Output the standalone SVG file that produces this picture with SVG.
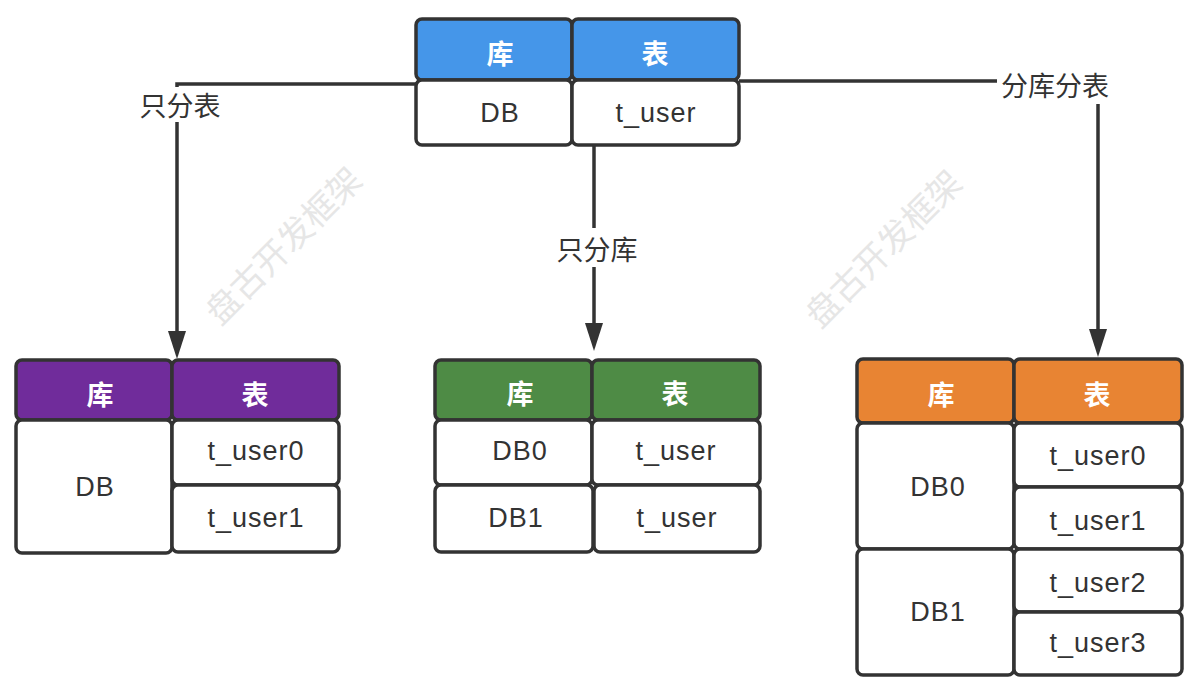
<svg xmlns="http://www.w3.org/2000/svg" width="1202" height="694" viewBox="0 0 1202 694">
<style>
.cell{fill:#fff;stroke:#333;stroke-width:3.5}
.hb{fill:#4596E9;stroke:#333;stroke-width:3.5}
.hp{fill:#702C9B;stroke:#333;stroke-width:3.5}
.hg{fill:#4E8B45;stroke:#333;stroke-width:3.5}
.ho{fill:#E88433;stroke:#333;stroke-width:3.5}
.ht{font-family:"Noto Sans CJK SC","Noto Sans",sans-serif;font-size:27px;font-weight:bold;fill:#fff;text-anchor:middle;dominant-baseline:central}
.t{font-family:"Liberation Sans",Arial,sans-serif;font-size:27px;fill:#333;text-anchor:middle;letter-spacing:1px}
.lbl{font-family:"Noto Sans CJK SC",sans-serif;font-size:27px;fill:#333;text-anchor:middle;dominant-baseline:central}
.wm{font-family:"Noto Sans CJK SC",sans-serif;font-size:34px;fill:#e6e6e6;text-anchor:middle;dominant-baseline:central}
.ln{fill:none;stroke:#333;stroke-width:3.5}
</style>
<g id="watermarks">
<text class="wm" transform="translate(282,244) rotate(-45)">盘古开发框架</text>
<text class="wm" transform="translate(882,247) rotate(-45)">盘古开发框架</text>
</g>
<g id="connectors">
<path class="ln" d="M416 84 H177 V333"/>
<path d="M168 331 L186 331 L177 359 Z" fill="#333"/>
<path class="ln" d="M594 146 V325"/>
<path d="M585 323 L603 323 L594 351 Z" fill="#333"/>
<path class="ln" d="M739 81 H1098 V331"/>
<path d="M1089 329 L1107 329 L1098 357 Z" fill="#333"/>
<rect x="138" y="87" width="84" height="35" fill="#fff"/>
<text class="lbl" x="180" y="104">只分表</text>
<rect x="554" y="228" width="86" height="39" fill="#fff"/>
<text class="lbl" x="597" y="248">只分库</text>
<rect x="997" y="66" width="116" height="38" fill="#fff"/>
<text class="lbl" x="1055" y="84">分库分表</text>
</g>
<g id="top-table">
<rect class="hb" x="416" y="19" width="156" height="61" rx="6"/>
<rect class="hb" x="572" y="19" width="167" height="61" rx="6"/>
<rect class="cell" x="416" y="80" width="156" height="65" rx="6"/>
<rect class="cell" x="572" y="80" width="167" height="65" rx="6"/>
<text class="ht" x="500" y="52">库</text>
<text class="ht" x="655" y="52">表</text>
<text class="t" x="500" y="122">DB</text>
<text class="t" x="656" y="122">t_user</text>
</g>
<g id="table-only-table">
<rect class="hp" x="16" y="360" width="156" height="60" rx="6"/>
<rect class="hp" x="172" y="360" width="167" height="60" rx="6"/>
<rect class="cell" x="16" y="420" width="156" height="133" rx="6"/>
<rect class="cell" x="172" y="420" width="167" height="65" rx="6"/>
<rect class="cell" x="172" y="485" width="167" height="67" rx="6"/>
<text class="ht" x="100" y="393">库</text>
<text class="ht" x="255" y="393">表</text>
<text class="t" x="95" y="496">DB</text>
<text class="t" x="256" y="460">t_user0</text>
<text class="t" x="256" y="527">t_user1</text>
</g>
<g id="table-only-db">
<rect class="hg" x="435" y="360" width="157" height="60" rx="6"/>
<rect class="hg" x="592" y="360" width="168" height="60" rx="6"/>
<rect class="cell" x="435" y="420" width="157" height="65" rx="6"/>
<rect class="cell" x="592" y="420" width="168" height="65" rx="6"/>
<rect class="cell" x="435" y="485" width="158" height="67" rx="6"/>
<rect class="cell" x="594" y="485" width="166" height="67" rx="6"/>
<text class="ht" x="520" y="392">库</text>
<text class="ht" x="675" y="392">表</text>
<text class="t" x="520" y="460">DB0</text>
<text class="t" x="676" y="460">t_user</text>
<text class="t" x="516" y="527">DB1</text>
<text class="t" x="677" y="527">t_user</text>
</g>
<g id="table-db-and-table">
<rect class="ho" x="857" y="359" width="157" height="64" rx="6"/>
<rect class="ho" x="1014" y="359" width="168" height="64" rx="6"/>
<rect class="cell" x="857" y="423" width="157" height="126" rx="6"/>
<rect class="cell" x="857" y="549" width="157" height="126" rx="6"/>
<rect class="cell" x="1014" y="423" width="168" height="64" rx="6"/>
<rect class="cell" x="1014" y="487" width="168" height="62" rx="6"/>
<rect class="cell" x="1014" y="549" width="168" height="63" rx="6"/>
<rect class="cell" x="1014" y="612" width="168" height="63" rx="6"/>
<text class="ht" x="941" y="393">库</text>
<text class="ht" x="1097" y="393">表</text>
<text class="t" x="938" y="496">DB0</text>
<text class="t" x="938" y="621">DB1</text>
<text class="t" x="1098" y="465">t_user0</text>
<text class="t" x="1098" y="530">t_user1</text>
<text class="t" x="1098" y="592">t_user2</text>
<text class="t" x="1098" y="652">t_user3</text>
</g>
</svg>
